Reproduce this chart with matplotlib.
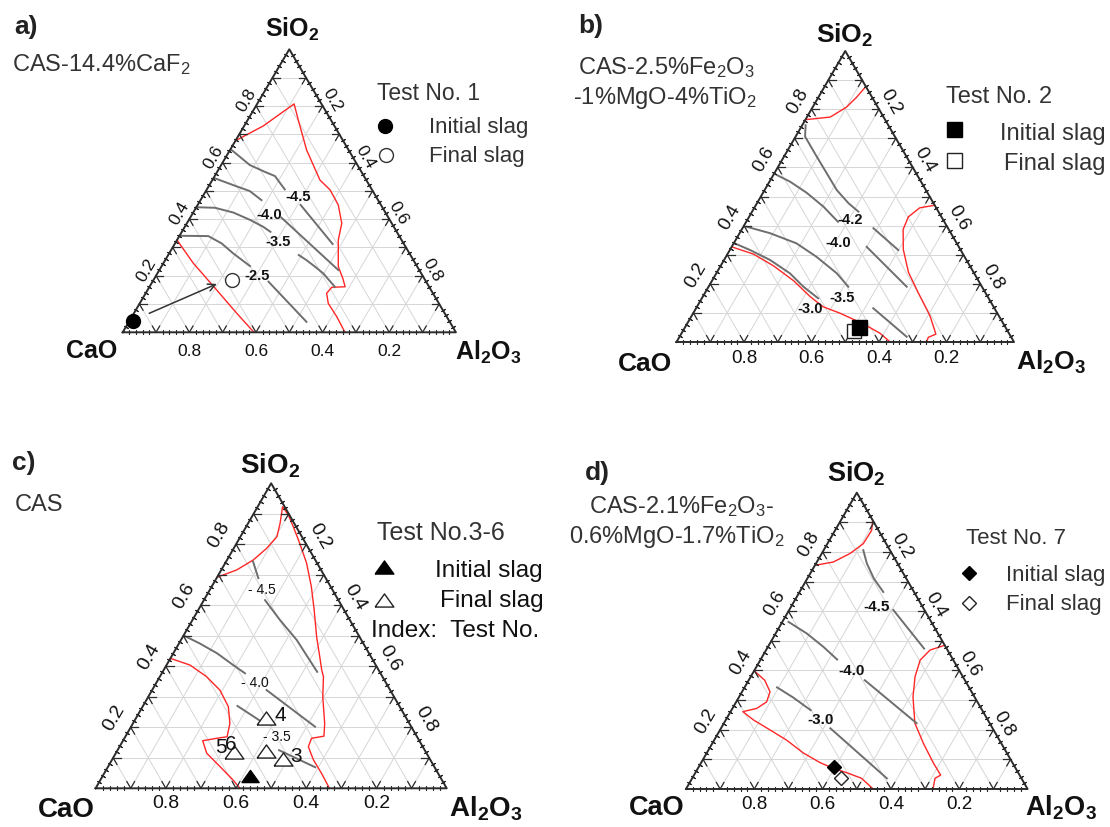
import numpy as np
import matplotlib
matplotlib.use("Agg")
import matplotlib.pyplot as plt

plt.rcParams["font.family"] = ["Liberation Sans", "DejaVu Sans"]
plt.rcParams["mathtext.fontset"] = "custom"
plt.rcParams["mathtext.rm"] = "Liberation Sans"
plt.rcParams["mathtext.it"] = "Liberation Sans:italic"
plt.rcParams["mathtext.bf"] = "Liberation Sans:bold"

# ---------------- data: (SiO2, Al2O3) mass fractions, CaO = remainder ----------------
tick_values = [0.2, 0.4, 0.6, 0.8]

# (a) CAS-14.4%CaF2 -- Test No. 1
a_liquidus = [
    [(0.677, 0.0), (0.729, 0.057), (0.807, 0.111), (0.750, 0.152), (0.644, 0.230), (0.538, 0.323),
     (0.503, 0.371), (0.450, 0.422), (0.385, 0.465), (0.326, 0.484), (0.232, 0.531), (0.191, 0.565),
     (0.161, 0.587), (0.159, 0.548), (0.138, 0.543), (0.102, 0.566), (0.055, 0.615), (0.0, 0.667)],
    [(0.326, 0.0), (0.244, 0.090), (0.149, 0.208), (0.067, 0.309), (0.0, 0.394)],
]
a_iso_text = ["-4.5", "-4.0", "-3.5", "-2.5"]
a_iso_left = [
    [(0.644, 0.005), (0.591, 0.086), (0.567, 0.143), (0.552, 0.181), (0.527, 0.209), (0.505, 0.234)],
    [(0.544, 0.005), (0.520, 0.072), (0.499, 0.132), (0.467, 0.183)],
    [(0.442, 0.0), (0.440, 0.057), (0.423, 0.121), (0.397, 0.184), (0.373, 0.235), (0.355, 0.266)],
    [(0.341, 0.0), (0.340, 0.087), (0.314, 0.140), (0.279, 0.192), (0.234, 0.265)],
]
a_iso_right = [
    [(0.450, 0.309), (0.312, 0.474)],
    [(0.405, 0.274), (0.220, 0.537)],
    [(0.273, 0.392), (0.255, 0.424), (0.232, 0.461), (0.208, 0.498), (0.161, 0.556)],
    [(0.179, 0.348), (0.037, 0.533)],
]
a_iso_pos = [(0.479, 0.287), (0.414, 0.232), (0.320, 0.307), (0.200, 0.304)]
a_initial = (0.040, 0.010)
a_final = (0.185, 0.235)
a_arrow = [(0.067, 0.046), (0.171, 0.197)]

# (b) CAS-2.5%Fe2O3-1%MgO-4%TiO2 -- Test No. 2
b_liquidus = [
    [(0.764, 0.0), (0.773, 0.069), (0.807, 0.100), (0.841, 0.113), (0.878, 0.122)],
    [(0.470, 0.530), (0.461, 0.490), (0.430, 0.472), (0.387, 0.478), (0.318, 0.513), (0.239, 0.568),
     (0.170, 0.631), (0.090, 0.706), (0.027, 0.755), (0.016, 0.738), (0.0, 0.741)],
    [(0.327, 0.0), (0.302, 0.077), (0.262, 0.156), (0.211, 0.241), (0.156, 0.318), (0.121, 0.374),
     (0.099, 0.435), (0.062, 0.523), (0.030, 0.588), (0.0, 0.633)],
]
b_iso_text = ["-4.2", "-4.0", "-3.5", "-3.0"]
b_iso_left = [
    [(0.745, 0.010), (0.706, 0.028), (0.648, 0.086), (0.580, 0.155), (0.522, 0.214), (0.477, 0.271), (0.448, 0.315)],
    [(0.574, 0.010), (0.551, 0.061), (0.513, 0.129), (0.465, 0.203), (0.413, 0.272)],
    [(0.396, 0.010), (0.374, 0.090), (0.339, 0.186), (0.293, 0.268), (0.236, 0.357), (0.190, 0.414)],
    [(0.339, 0.003), (0.316, 0.060), (0.282, 0.136), (0.236, 0.218), (0.190, 0.281), (0.150, 0.345)],
]
b_iso_right = [
    [(0.391, 0.388), (0.316, 0.499)],
    [(0.327, 0.400), (0.190, 0.587)],
    [(0.116, 0.525), (0.018, 0.673)],
    [],
]
b_iso_pos = [(0.419, 0.304), (0.339, 0.309), (0.150, 0.417), (0.112, 0.340)]
b_initial = (0.050, 0.517)
b_final = (0.037, 0.506)

# (c) CAS -- Test No. 3-6
c_liquidus = [
    [(0.692, 0.0), (0.716, 0.044), (0.749, 0.075), (0.787, 0.094), (0.825, 0.104), (0.869, 0.091),
     (0.923, 0.071), (0.896, 0.101), (0.858, 0.134), (0.803, 0.180), (0.738, 0.232), (0.661, 0.284),
     (0.585, 0.330), (0.497, 0.381), (0.431, 0.423), (0.388, 0.450), (0.366, 0.466), (0.300, 0.497),
     (0.213, 0.546), (0.171, 0.565), (0.164, 0.533), (0.136, 0.538), (0.093, 0.574), (0.049, 0.619),
     (0.0, 0.666)],
    [(0.426, 0.0), (0.404, 0.067), (0.366, 0.133), (0.322, 0.193), (0.268, 0.244), (0.213, 0.276),
     (0.169, 0.290), (0.164, 0.263), (0.156, 0.227), (0.115, 0.259), (0.071, 0.319), (0.027, 0.378),
     (0.0, 0.411)],
]
c_iso_text = ["- 4.5", "- 4.0", "- 3.5"]
c_iso_left = [
    [(0.743, 0.077), (0.689, 0.119)],
    [(0.499, 0.005), (0.475, 0.059), (0.443, 0.124), (0.404, 0.190), (0.377, 0.237)],
    [(0.270, 0.269), (0.218, 0.364)],
]
c_iso_right = [
    [(0.617, 0.174), (0.552, 0.249), (0.486, 0.330), (0.382, 0.440)],
    [(0.322, 0.326), (0.202, 0.524)],
    [(0.125, 0.460), (0.069, 0.591)],
]
c_iso_pos = [(0.650, 0.148), (0.344, 0.282), (0.167, 0.432)]
c_initial = (0.040, 0.420)
c_final_sio2 = [0.095, 0.230, 0.120, 0.122]
c_final_al2o3 = [0.485, 0.370, 0.334, 0.424]
c_index_text = ["3", "4", "5", "6"]
c_index_of = [0, 1, 2, 2]

# (d) CAS-2.1%Fe2O3-0.6%MgO-1.7%TiO2 -- Test No. 7
d_liquidus = [
    [(0.755, 0.0), (0.766, 0.048), (0.795, 0.083), (0.828, 0.105), (0.873, 0.107), (0.907, 0.093)],
    [(0.485, 0.515), (0.469, 0.480), (0.435, 0.468), (0.379, 0.481), (0.311, 0.509), (0.222, 0.559),
     (0.154, 0.618), (0.087, 0.681), (0.047, 0.722), (0.036, 0.711), (0.0, 0.723)],
    [(0.399, 0.0), (0.367, 0.047), (0.328, 0.082), (0.294, 0.089), (0.272, 0.071), (0.261, 0.036),
     (0.233, 0.081), (0.199, 0.147), (0.165, 0.212), (0.122, 0.282), (0.089, 0.348), (0.070, 0.396),
     (0.053, 0.449), (0.036, 0.496), (0.0, 0.548)],
]
d_iso_text = ["-4.5", "-4.0", "-3.0"]
d_iso_left = [
    [(0.806, 0.116), (0.761, 0.149), (0.710, 0.195), (0.665, 0.245)],
    [(0.564, 0.018), (0.525, 0.091), (0.480, 0.162), (0.437, 0.224)],
    [(0.343, 0.095), (0.309, 0.159), (0.266, 0.232)],
]
d_iso_right = [
    [(0.604, 0.305), (0.474, 0.460)],
    [(0.367, 0.340), (0.222, 0.564)],
    [(0.205, 0.320), (0.036, 0.570)],
]
d_iso_pos = [(0.615, 0.251), (0.399, 0.286), (0.233, 0.276)]
d_initial = (0.075, 0.395)
d_final = (0.038, 0.434)

# ---------------- figure ----------------
W, H = 1110, 827
fig = plt.figure(figsize=(W / 100, H / 100), dpi=100)
ov = fig.add_axes([0, 0, 1, 1])
ov.set_xlim(0, W)
ov.set_ylim(H, 0)
ov.axis("off")

GRID = "#d6d6d6"
EDGE = "#2b2b2b"
RED = "#ff2626"
ISO = "#6e6e6e"
TXT = "#333333"
TRI = [(-1, -0.7), (1, -0.7), (0, 0.7), (-1, -0.7)]


def tern(sio2, al2o3):
    s = np.asarray(sio2, dtype=float)
    a = np.asarray(al2o3, dtype=float)
    return a + 0.5 * s, s


def p1(sio2, al2o3):
    x, y = tern(sio2, al2o3)
    return float(x), float(y)


def pts(seq):
    s, a = zip(*seq)
    return tern(s, a)


def make_axes(L, R, B, T):
    ax = fig.add_axes([L / W, 1 - B / H, (R - L) / W, (B - T) / H])
    ax.set_xlim(0, 1)
    ax.set_ylim(0, 1)
    ax.axis("off")
    return ax


def frame(ax, tick_fs, base_off, left_off, right_off):
    vals = np.round(np.arange(0.1, 0.95, 0.1), 2)
    for v in vals:
        for ss, aa in (([v, v], [0, 1 - v]), ([0, 1 - v], [v, v]), ([0, 1 - v], [1 - v, 0])):
            ax.plot(*tern(ss, aa), color=GRID, lw=0.7, zorder=1, clip_on=False)
    ax.plot(*tern([0, 0, 1, 0], [0, 1, 0, 0]), color=EDGE, lw=1.4, zorder=6, clip_on=False)
    t = 0.022
    for v in vals:
        for ss, aa in (([0, t], [v, v]), ([0, t], [v, v - t]),
                       ([v, v], [0, t]), ([v, v - t], [0, t]),
                       ([v, v], [1 - v, 1 - v - t]), ([v, v - t], [1 - v, 1 - v])):
            ax.plot(*tern(ss, aa), color=EDGE, lw=0.9, zorder=6, clip_on=False)
    u = np.array([x for x in np.round(np.arange(0.02, 0.99, 0.02), 2) if round(x * 10, 6) % 1 != 0])
    z = np.zeros_like(u)
    mk = dict(ls="none", ms=3.5, mew=0.8, color=EDGE, clip_on=False, zorder=6)
    ax.plot(*tern(z, u), marker=(2, 2, 0), **mk)
    ax.plot(*tern(u, z), marker=(2, 2, 60), **mk)
    ax.plot(*tern(u, 1 - u), marker=(2, 2, -60), **mk)
    for v in tick_values:
        lab = f"{v:.1f}"
        ax.annotate(lab, xy=p1(0, 1 - v), xytext=(0, -base_off), textcoords="offset pixels",
                    ha="center", va="baseline", fontsize=tick_fs, color="#111111")
        ax.annotate(lab, xy=p1(v, 0), xytext=(-0.866 * left_off, 0.5 * left_off),
                    textcoords="offset pixels", ha="center", va="center", rotation=60,
                    rotation_mode="anchor", fontsize=tick_fs, color="#111111")
        ax.annotate(lab, xy=p1(1 - v, v), xytext=(0.866 * right_off, 0.5 * right_off),
                    textcoords="offset pixels", ha="center", va="center", rotation=-60,
                    rotation_mode="anchor", fontsize=tick_fs, color="#111111")


def curves(ax, liquidus, iso_left, iso_right, iso_pos, iso_text, lab_fs, lab_w):
    for c in liquidus:
        ax.plot(*pts(c), color=RED, lw=1.0, zorder=3, clip_on=False)
    for seg in iso_left + iso_right:
        if seg:
            ax.plot(*pts(seg), color=ISO, lw=1.4, zorder=3, clip_on=False)
    for txt, p in zip(iso_text, iso_pos):
        x, y = p1(*p)
        ax.text(x, y, txt, ha="center", va="center", fontsize=lab_fs, fontweight=lab_w,
                color="#111111", zorder=4)


def vertex_labels(xy_si, xy_ca, xy_al, fs):
    kw = dict(ha="center", va="baseline", fontsize=fs, fontweight="bold", color="#111111")
    ov.text(*xy_si, r"SiO$_\mathbf{2}$", **kw)
    ov.text(*xy_ca, "CaO", **kw)
    ov.text(*xy_al, r"Al$_\mathbf{2}$O$_\mathbf{3}$", **kw)


# ---- panel a ----
ax = make_axes(122.7, 455.9, 332.3, 49.3)
frame(ax, 12.5, 23.7, 11, 11)
curves(ax, a_liquidus, a_iso_left, a_iso_right, a_iso_pos, a_iso_text, 10.5, "bold")
ax.plot(*p1(*a_initial), marker="o", ms=10, color="black", zorder=7, clip_on=False)
ax.plot(*p1(*a_final), marker="o", ms=10, mfc="white", mec="#333333", mew=1.0, zorder=7)
ax.annotate("", xy=p1(*a_arrow[1]), xytext=p1(*a_arrow[0]),
            arrowprops=dict(arrowstyle="->", color="#333333", lw=1.1, shrinkA=0, shrinkB=0,
                            mutation_scale=13), zorder=7)
ov.text(14, 34.3, "a)", fontsize=19, fontweight="bold", color="#222222", va="baseline")
ov.text(12.4, 71.5, "CAS-14.4%CaF$_2$", fontsize=17, color=TXT, va="baseline")
ov.text(377, 100, "Test No. 1", fontsize=16.5, color=TXT, va="baseline")
ov.plot(385.1, 126, marker="o", ms=10, color="black")
ov.text(429, 132.7, "Initial slag", fontsize=16, color=TXT, va="baseline")
ov.plot(385.8, 155, marker="o", ms=10, mfc="white", mec="#333333", mew=1.0)
ov.text(429, 162.3, "Final slag", fontsize=16, color=TXT, va="baseline")
vertex_labels((292, 37.3), (92, 358.3), (488, 359.5), 18)

# ---- panel b ----
ax = make_axes(676.5, 1014.0, 342.0, 51.0)
frame(ax, 13.5, 20.7, 16, 14)
curves(ax, b_liquidus, b_iso_left, b_iso_right, b_iso_pos, b_iso_text, 10.5, "bold")
ax.plot(*p1(*b_final), marker="s", ms=10.5, mfc="white", mec="#222222", mew=1.0, zorder=7)
ax.plot(*p1(*b_initial), marker="s", ms=10.8, color="black", zorder=8)
ov.text(578, 33.3, "b)", fontsize=19, fontweight="bold", color="#222222", va="baseline")
ov.text(578, 74, "CAS-2.5%Fe$_2$O$_3$", fontsize=17, color=TXT, va="baseline")
ov.text(573.4, 104, "-1%MgO-4%TiO$_2$", fontsize=17, color=TXT, va="baseline")
ov.text(946, 103.3, "Test No. 2", fontsize=17, color=TXT, va="baseline")
ov.plot(954.3, 129.3, marker="s", ms=10.8, color="black")
ov.text(1106, 140, "Initial slag", fontsize=17, color=TXT, va="baseline", ha="right")
ov.plot(954.3, 160, marker="s", ms=10.8, mfc="white", mec="#222222", mew=1.0)
ov.text(1106, 170, "Final slag", fontsize=17, color=TXT, va="baseline", ha="right")
vertex_labels((845, 43.3), (645, 370.7), (1051.5, 370), 19)

# ---- panel c ----
ax = make_axes(95.6, 446.7, 788.3, 483.3)
frame(ax, 14, 20, 19, 16)
curves(ax, c_liquidus, c_iso_left, c_iso_right, c_iso_pos, c_iso_text, 10, "normal")
ax.plot(*p1(*c_initial), marker=TRI, ms=12.5, color="black", zorder=7)
ax.plot(*tern(c_final_sio2, c_final_al2o3), ls="none", marker=TRI, ms=13.5, mfc="white",
        mec="#222222", mew=1.0, zorder=7)
c_index_offsets = [(14, 2.6), (14.7, 2.3), (-12.5, 4.4), (-3.0, 6.7)]
for txt, i, off in zip(c_index_text, c_index_of, c_index_offsets):
    ax.annotate(txt, xy=p1(c_final_sio2[i], c_final_al2o3[i]), xytext=off,
                textcoords="offset pixels", ha="center", va="center", fontsize=15,
                color="#111111", zorder=8)
ov.text(12.4, 470, "c)", fontsize=19, fontweight="bold", color="#222222", va="baseline")
ov.text(14.9, 510.7, "CAS", fontsize=17, color=TXT, va="baseline")
ov.text(377, 540, "Test No.3-6", fontsize=18, color=TXT, va="baseline")
ov.plot(384, 566.7, marker=TRI, ms=13.5, color="black")
ov.text(435.4, 576.7, "Initial slag", fontsize=17.5, color="#111111", va="baseline")
ov.plot(384, 600, marker=TRI, ms=13.5, mfc="white", mec="#222222", mew=1.0)
ov.text(440, 607.3, "Final slag", fontsize=17.5, color="#111111", va="baseline")
ov.text(371, 637.3, "Index:  Test No.", fontsize=17.5, color="#111111", va="baseline")
vertex_labels((270.4, 473.3), (66, 816.7), (486, 816.7), 20)

# ---- panel d ----
ax = make_axes(686.0, 1027.6, 789.0, 492.7)
frame(ax, 13.5, 20.3, 16, 12)
curves(ax, d_liquidus, d_iso_left, d_iso_right, d_iso_pos, d_iso_text, 11, "bold")
ax.plot(*p1(*d_initial), marker="D", ms=7, color="black", zorder=7)
ax.plot(*p1(*d_final), marker="D", ms=7, mfc="white", mec="#222222", mew=1.0, zorder=7)
ov.text(585, 480, "d)", fontsize=19, fontweight="bold", color="#222222", va="baseline")
ov.text(588.6, 513.3, "CAS-2.1%Fe$_2$O$_3$-", fontsize=17, color=TXT, va="baseline")
ov.text(569.2, 543.3, "0.6%MgO-1.7%TiO$_2$", fontsize=17, color=TXT, va="baseline")
ov.text(965.6, 544, "Test No. 7", fontsize=16, color=TXT, va="baseline")
ov.plot(968.5, 573.3, marker="D", ms=7, color="black")
ov.text(1006.3, 580.7, "Initial slag", fontsize=16, color=TXT, va="baseline")
ov.plot(968.5, 602.7, marker="D", ms=7, mfc="white", mec="#222222", mew=1.0)
ov.text(1006.3, 610, "Final slag", fontsize=16, color=TXT, va="baseline")
vertex_labels((856, 481.7), (656.5, 815), (1060.5, 815), 19.5)

fig.savefig("out.png", dpi=100)
